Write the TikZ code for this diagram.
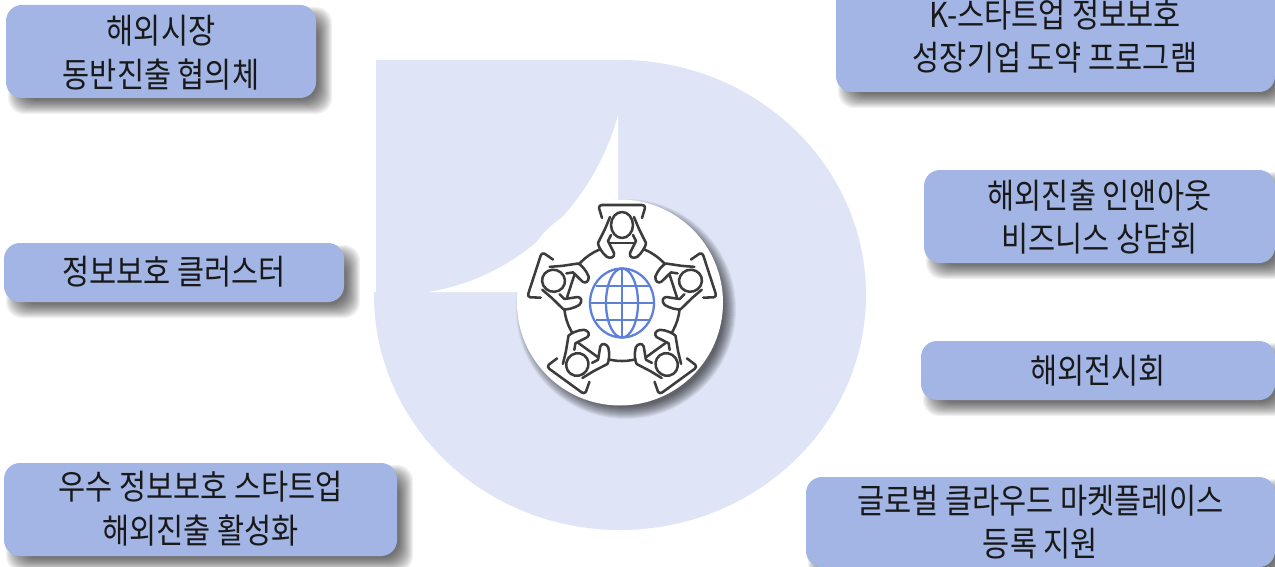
\documentclass[tikz,border=0pt]{standalone}
\usepackage{fontspec}
\newfontfamily\krfont[FakeStretch=0.86]{Noto Sans CJK KR}
\definecolor{boxblue}{HTML}{A2B5E5}
\definecolor{paleblue}{HTML}{DFE5F6}
\definecolor{globeblue}{HTML}{5F80DA}
\definecolor{iconink}{HTML}{3C3C3C}
\tikzset{
  x=0.75pt,y=-0.75pt,
  boxstyle/.style={fill=boxblue,rounded corners=12pt,inner sep=0pt,align=center,
    font=\krfont\fontsize{25.7}{32.5}\selectfont,text=black!90},
  labelstyle/.style={inner sep=0pt,align=center,
    font=\krfont\fontsize{25.7}{32.5}\selectfont,text=black!90},
  personline/.style={draw=iconink,line width=1.9pt,line cap=round,line join=round},
  globeline/.style={draw=globeblue,line width=1.7pt}
}
% x0 y0 x1 y1 name text-drop text
\newcommand{\shadowbox}[7]{%
  \foreach \g in {14,13,...,0}{
    \fill[black,opacity=0.052,rounded corners=12pt]
      (#1+16-\g,#2+16-\g) rectangle (#3+2+\g,#4+2+\g);
  }
  \node[boxstyle,minimum width={(#3-#1)*0.75pt},minimum height={(#4-#2)*0.75pt}]
    (#5) at ({(#1+#3)/2},{(#2+#4)/2}) {\raisebox{-#6pt}[0pt][0pt]{\begin{tabular}{@{}c@{}}#7\end{tabular}}};
}
% angle, radial inset, head half-height
\newcommand{\personicon}[3]{%
  \begin{scope}[shift={(622,303)},rotate=#1,shift={(0,#2)}]
    \fill[white] (-24,-60) -- (-20,-85) -- (20,-85) -- (24,-60) -- (14,-44) -- (-14,-44) -- cycle;
    \draw[personline] (-20,-85) -- (-23,-95) .. controls (-23,-97) and (-22,-98) .. (-20,-98)
       -- (20,-98) .. controls (22,-98) and (23,-97) .. (23,-95) -- (20,-85);
    \draw[personline] (-12,-86) -- (-17,-74) -- (-24,-60) .. controls (-24,-57) and (-20,-50) .. (-15,-46)
       .. controls (-11,-44) and (-7,-46) .. (-8,-50) -- (-14,-62) -- (-11,-68);
    \draw[personline] (12,-86) -- (17,-74) -- (24,-60) .. controls (24,-57) and (20,-50) .. (15,-46)
       .. controls (11,-44) and (7,-46) .. (8,-50) -- (14,-62) -- (11,-68);
    \draw[personline] (-12,-60) -- (12,-60);
    \draw[personline,fill=white] (-11,-78)
       .. controls (-11,{-78-0.55*#3}) and (-6,-78-#3) .. (0,-78-#3)
       .. controls (6,-78-#3) and (11,{-78-0.55*#3}) .. (11,-78)
       .. controls (11,{-78+0.55*#3}) and (6,-78+#3) .. (0,-78+#3)
       .. controls (-6,-78+#3) and (-11,{-78+0.55*#3}) .. (-11,-78) -- cycle;
  \end{scope}}
\begin{document}
\begin{tikzpicture}
\useasboundingbox (0,0) rectangle (1275,567);
\clip (0,0) rectangle (1275,567);
% backdrop
\fill[paleblue] (376,60) -- (620,60)
  arc[start angle=-90,end angle=90,x radius=246,y radius=235]
  arc[start angle=90,end angle=180,x radius=246,y radius=235] -- (374,292) -- (376,292) -- cycle;
\fill[white] (618,115) .. controls (598,192) and (530,276) .. (428,292) -- (618,292) -- cycle;
% disc with shadow
\foreach \g in {12,11,...,0}{
  \fill[black,opacity=0.06] (626,309) circle ({103+\g-5});
}
\node[circle,fill=white,minimum size=154.5pt,inner sep=0pt] (disc) at (620,302.5) {};
% table
\draw[personline] (622,303) circle (58);
\personicon{0}{0}{13}
\personicon{72}{6}{11.5}
\personicon{288}{6}{11.5}
\personicon{144}{2}{11.5}
\personicon{216}{2}{11.5}
% globe
\begin{scope}[shift={(622,303)}]
  \draw[globeline] (0,0) ellipse [x radius=32,y radius=34.5];
  \draw[globeline] (0,0) ellipse [x radius=16,y radius=34.5];
  \draw[globeline] (0,-34.5) -- (0,34.5);
  \draw[globeline] (-32,0) -- (32,0);
  \draw[globeline] (-26.5,-17) -- (26.5,-17);
  \draw[globeline] (-26.5,17) -- (26.5,17);
\end{scope}
% boxes
\shadowbox{6}{5}{316}{98}{marketA}{10.1}{해외시장\\동반진출 협의체}
\shadowbox{836}{-20}{1275}{92}{kstart}{0}{}
\node[labelstyle] (kstartlabel) at (1055,36) {K-스타트업 정보보호\\성장기업 도약 프로그램};
\shadowbox{924}{170}{1275}{263}{inout}{10}{해외진출 인앤아웃\\비즈니스 상담회}
\shadowbox{921}{341}{1275}{400}{expo}{9.8}{해외전시회}
\shadowbox{806}{477}{1275}{567}{cloud}{9.4}{글로벌 클라우드 마켓플레이스\\등록 지원}
\shadowbox{4}{243}{344}{302}{cluster}{9}{정보보호 클러스터}
\shadowbox{4}{463}{397}{556}{space}{8.6}{우수 정보보호 스타트업\\해외진출 활성화}
\end{tikzpicture}
\end{document}
